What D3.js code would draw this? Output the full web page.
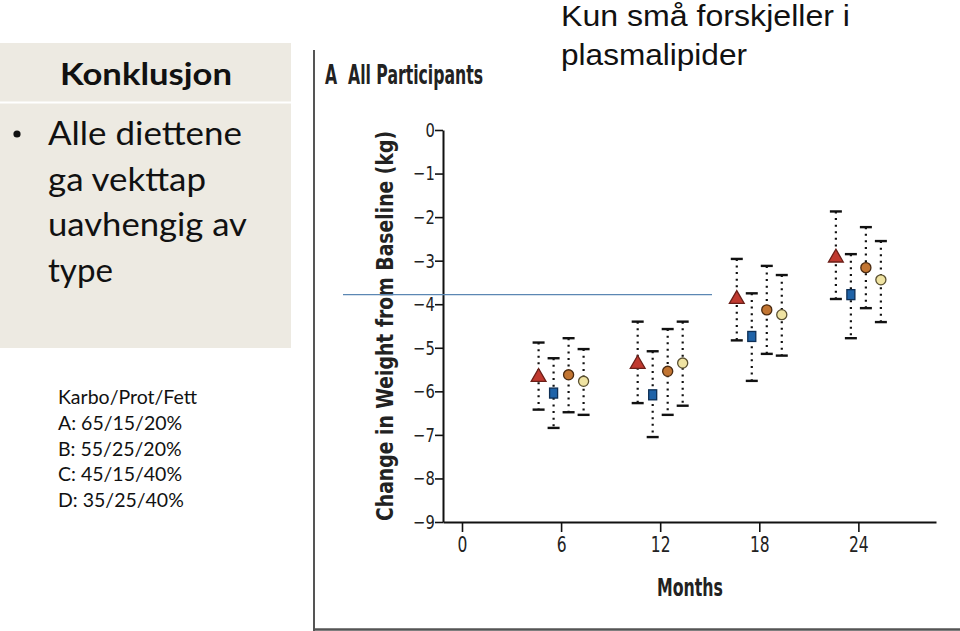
<!DOCTYPE html>
<html><head><meta charset="utf-8">
<script src="https://cdn.jsdelivr.net/npm/d3@7"></script>
<style>
body{margin:0;background:#fff;}
svg{display:block;}
</style></head>
<body>
<svg id="c" width="960" height="631"></svg>
<script>
// ---- data ----
const months = [6, 12, 18, 24];
const xTicks = [0, 6, 12, 18, 24];
const yTicks = [0, -1, -2, -3, -4, -5, -6, -7, -8, -9];
const series = ["A", "B", "C", "D"];
// mean change (kg) per series at each month
const meanA = [-5.65, -5.35, -3.86, -2.91];
const meanB = [-6.04, -6.08, -4.74, -3.78];
const meanC = [-5.62, -5.54, -4.13, -3.16];
const meanD = [-5.77, -5.35, -4.24, -3.44];
// upper / lower CI bounds
const hiA = [-4.88, -4.40, -2.96, -1.87];
const loA = [-6.42, -6.27, -4.83, -3.88];
const hiB = [-5.24, -5.08, -3.75, -2.85];
const loB = [-6.84, -7.05, -5.76, -4.78];
const hiC = [-4.78, -4.57, -3.12, -2.23];
const loC = [-6.48, -6.54, -5.14, -4.09];
const hiD = [-5.03, -4.40, -3.33, -2.55];
const loD = [-6.54, -6.33, -5.18, -4.41];
const dietLines = ["Karbo/Prot/Fett", "A: 65/15/20%", "B: 55/25/20%", "C: 45/15/40%", "D: 35/25/40%"];
const bulletLines = ["Alle diettene", "ga vekttap", "uavhengig av", "type"];
const bulletWidths = [194, 158, 199, 65];
const titleLines = ["Kun små forskjeller i", "plasmalipider"];
const titleWidths = [289, 186];

const means = {A: meanA, B: meanB, C: meanC, D: meanD};
const his = {A: hiA, B: hiB, C: hiC, D: hiD};
const los = {A: loA, B: loB, C: loC, D: loD};
const styles = {
  A: {fill: "#c0392f", stroke: "#6b1f18", shape: "tri"},
  B: {fill: "#1f63a8", stroke: "#0e2f55", shape: "sq"},
  C: {fill: "#c27532", stroke: "#4a2a10", shape: "circ"},
  D: {fill: "#efe3a2", stroke: "#5a5030", shape: "circ"}
};

const svg = d3.select("#c");
const body = "Lato, 'Open Sans', sans-serif";

// ---- left panel ----
svg.append("rect").attr("x", 0).attr("y", 43).attr("width", 291).attr("height", 305).attr("fill", "#edeae2");
svg.append("line").attr("x1", 0).attr("x2", 291).attr("y1", 102.5).attr("y2", 102.5).attr("stroke", "#fff").attr("stroke-width", 2);
svg.append("text").attr("x", 60).attr("y", 85)
  .attr("font-family", body).attr("font-weight", "bold").attr("font-size", 31)
  .attr("textLength", 172).attr("lengthAdjust", "spacingAndGlyphs")
  .attr("fill", "#111").text("Konklusjon");
svg.append("circle").attr("cx", 17).attr("cy", 134).attr("r", 3.6).attr("fill", "#111");
svg.selectAll("text.bl").data(bulletLines).join("text").attr("class", "bl")
  .attr("x", 48).attr("y", (d, i) => 145 + i * 45.5)
  .attr("textLength", (d, i) => bulletWidths[i]).attr("lengthAdjust", "spacingAndGlyphs")
  .attr("font-family", body).attr("font-size", 32).attr("fill", "#111").text(d => d);
svg.selectAll("text.dl").data(dietLines).join("text").attr("class", "dl")
  .attr("x", 58).attr("y", (d, i) => 404 + i * 25.8)
  .attr("font-family", body).attr("font-size", 19.5).attr("fill", "#111").text(d => d);

// ---- frame of figure ----
svg.append("line").attr("x1", 314).attr("x2", 314).attr("y1", 50).attr("y2", 631).attr("stroke", "#555").attr("stroke-width", 2);
svg.append("line").attr("x1", 313).attr("x2", 960).attr("y1", 629.5).attr("y2", 629.5).attr("stroke", "#555").attr("stroke-width", 2.5);

// ---- title ----
svg.selectAll("text.tt").data(titleLines).join("text").attr("class", "tt")
  .attr("x", 561).attr("y", (d, i) => 26 + i * 39)
  .attr("font-family", "'Liberation Sans', Arial, sans-serif").attr("font-size", 29)
  .attr("textLength", (d, i) => titleWidths[i]).attr("lengthAdjust", "spacingAndGlyphs")
  .attr("fill", "#111").text(d => d);

const cond = "'Liberation Sans Narrow', 'DejaVu Sans Condensed', 'Liberation Sans', sans-serif";
svg.append("text").attr("x", 325).attr("y", 84).attr("font-family", cond).attr("font-weight", "bold")
  .attr("font-size", 26).attr("fill", "#222").attr("xml:space", "preserve")
  .attr("textLength", 158).attr("lengthAdjust", "spacingAndGlyphs").text("A  All Participants");

// ---- scales ----
const x = d3.scaleLinear().domain([-1.15, 28.7]).range([443, 936]);
const y = d3.scaleLinear().domain([0, -9]).range([130, 522]);
const off = d3.scalePoint().domain(series).range([-22.5, 22.5]);

// axes
const ya = svg.append("g").attr("transform", "translate(443,0)")
  .call(d3.axisLeft(y).tickValues(yTicks).tickSize(8).tickSizeOuter(0).tickFormat(d => d === 0 ? "0" : "\u2212" + Math.abs(d)));
ya.select(".domain").attr("stroke", "#111").attr("stroke-width", 2);
ya.selectAll(".tick line").attr("stroke", "#111").attr("stroke-width", 1.6);
ya.selectAll(".tick text").attr("font-family", cond).attr("font-size", 20).attr("fill", "#222").attr("x", -9)
  .attr("transform", "scale(0.82,1)").attr("dx", -1);

const xa = svg.append("g").attr("transform", "translate(0,522)")
  .call(d3.axisBottom(x).tickValues(xTicks).tickSize(10).tickSizeOuter(0));
xa.select(".domain").attr("stroke", "#111").attr("stroke-width", 2);
xa.selectAll(".tick line").attr("stroke", "#111").attr("stroke-width", 1.6);
xa.selectAll(".tick text").attr("font-family", cond).attr("font-size", 21).attr("fill", "#222").attr("y", 15)
  .attr("transform", "scale(0.82,1)");

svg.append("text").attr("transform", "translate(393,326) rotate(-90)").attr("text-anchor", "middle")
  .attr("font-family", cond).attr("font-weight", "bold").attr("font-size", 23).attr("fill", "#222")
  .attr("textLength", 390).attr("lengthAdjust", "spacingAndGlyphs")
  .text("Change in Weight from Baseline (kg)");
svg.append("text").attr("x", 657).attr("y", 596)
  .attr("font-family", cond).attr("font-weight", "bold").attr("font-size", 24).attr("fill", "#222")
  .attr("textLength", 66).attr("lengthAdjust", "spacingAndGlyphs").text("Months");

// ---- thin blue reference line ----
svg.append("line").attr("x1", 343).attr("x2", 712).attr("y1", y(-3.78)).attr("y2", y(-3.78))
  .attr("stroke", "#5b87b3").attr("stroke-width", 1.2);

// ---- error bars and markers ----
const pts = [];
series.forEach(s => months.forEach((m, i) => pts.push({s, m, mean: means[s][i], hi: his[s][i], lo: los[s][i]})));
const px = d => x(d.m) + off(d.s);

const g = svg.append("g");
g.selectAll("line.eb").data(pts).join("line").attr("class", "eb")
  .attr("x1", px).attr("x2", px).attr("y1", d => y(d.hi)).attr("y2", d => y(d.lo))
  .attr("stroke", "#111").attr("stroke-width", 2.2).attr("stroke-dasharray", "2 4.6");
["hi", "lo"].forEach(k => {
  g.selectAll("line.cap" + k).data(pts).join("line").attr("class", "cap" + k)
    .attr("x1", d => px(d) - 6).attr("x2", d => px(d) + 6)
    .attr("y1", d => y(d[k])).attr("y2", d => y(d[k]))
    .attr("stroke", "#111").attr("stroke-width", 2.4);
});
const tri = d3.symbol().type(d3.symbolTriangle).size(95);
const circ = d3.symbol().type(d3.symbolCircle).size(80);
g.selectAll("path.mk").data(pts.filter(d => styles[d.s].shape !== "sq")).join("path").attr("class", "mk")
  .attr("transform", d => `translate(${px(d)},${y(d.mean) + (styles[d.s].shape === "tri" ? 1 : 0)})`)
  .attr("d", d => styles[d.s].shape === "tri" ? tri() : circ())
  .attr("fill", d => styles[d.s].fill).attr("stroke", d => styles[d.s].stroke).attr("stroke-width", 1.3);
g.selectAll("rect.mk").data(pts.filter(d => styles[d.s].shape === "sq")).join("rect").attr("class", "mk")
  .attr("x", d => px(d) - 4).attr("y", d => y(d.mean) - 5).attr("width", 8).attr("height", 10)
  .attr("fill", d => styles[d.s].fill).attr("stroke", d => styles[d.s].stroke).attr("stroke-width", 1.3);
</script>
</body></html>
